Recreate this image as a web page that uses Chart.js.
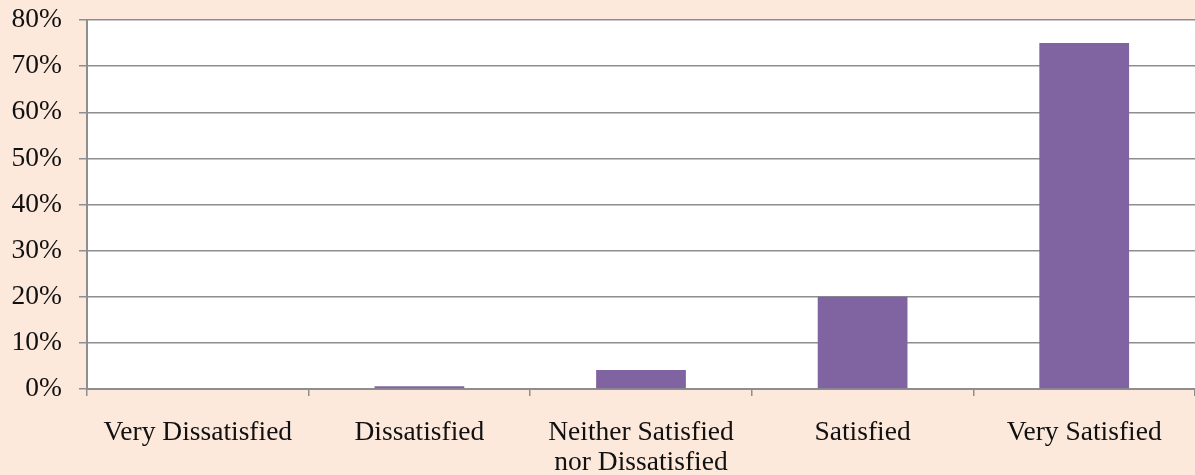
<!DOCTYPE html>
<html lang="en">

<head>
    <meta charset="UTF-8">
    <title>Satisfaction</title>
    <script src="https://cdn.jsdelivr.net/npm/chart.js"></script>
    <style>
        html, body { margin: 0; padding: 0; background: #fde9db; }
        #wrap { width: 1195px; height: 475px; position: relative; }
    </style>
</head>

<body>
    <div id="wrap">
        <canvas id="satChart"></canvas>
    </div>
    <script>
        // Datos del gráfico
        const categories = [
            'Very Dissatisfied',
            'Dissatisfied',
            ['Neither Satisfied', 'nor Dissatisfied'],
            'Satisfied',
            'Very Satisfied'
        ];
        const percentValues = [0, 0.6, 4.1, 20, 75];
        const yTicks = [0, 10, 20, 30, 40, 50, 60, 70, 80];

        const gridColor = '#8e8e8e';
        const fontFamily = '"Liberation Serif", "DejaVu Serif", serif';

        // fondo blanco del área de trazado
        const plotBg = {
            id: 'plotBg',
            beforeDraw(chart) {
                const { ctx, chartArea } = chart;
                ctx.save();
                ctx.fillStyle = '#ffffff';
                ctx.fillRect(chartArea.left, chartArea.top, chartArea.right - chartArea.left, chartArea.bottom - chartArea.top);
                ctx.restore();
            }
        };

        new Chart(document.getElementById('satChart'), {
            type: 'bar',
            data: {
                labels: categories,
                datasets: [{
                    data: percentValues,
                    backgroundColor: '#8064a2',
                    borderWidth: 0,
                    barPercentage: 0.405,
                    categoryPercentage: 1
                }]
            },
            options: {
                responsive: true,
                maintainAspectRatio: false,
                animation: false,
                layout: { padding: { top: 6, right: 0, bottom: 0, left: 0 } },
                plugins: {
                    legend: { display: false },
                    tooltip: { enabled: false }
                },
                scales: {
                    x: {
                        afterFit(axis) { axis.height = 86; },
                        grid: {
                            display: true,
                            drawOnChartArea: false,
                            drawTicks: true,
                            tickLength: 7,
                            color: gridColor,
                            lineWidth: 1.5,
                            offset: true
                        },
                        border: { color: gridColor, width: 2 },
                        ticks: {
                            color: '#111',
                            font: { family: fontFamily, size: 27.5, lineHeight: 1.08 },
                            padding: 22,
                            maxRotation: 0,
                            autoSkip: false
                        }
                    },
                    y: {
                        min: 0,
                        max: 80,
                        afterFit(axis) { axis.width = 87; },
                        afterBuildTicks(axis) { axis.ticks = yTicks.map(v => ({ value: v })); },
                        grid: {
                            color: gridColor,
                            lineWidth: 1.5,
                            tickLength: 8
                        },
                        border: { color: gridColor, width: 2 },
                        ticks: {
                            color: '#111',
                            font: { family: fontFamily, size: 27.5, lineHeight: 0.22 },
                            padding: 17,
                            callback: v => v + '%'
                        }
                    }
                }
            },
            plugins: [plotBg]
        });
    </script>
</body>

</html>
